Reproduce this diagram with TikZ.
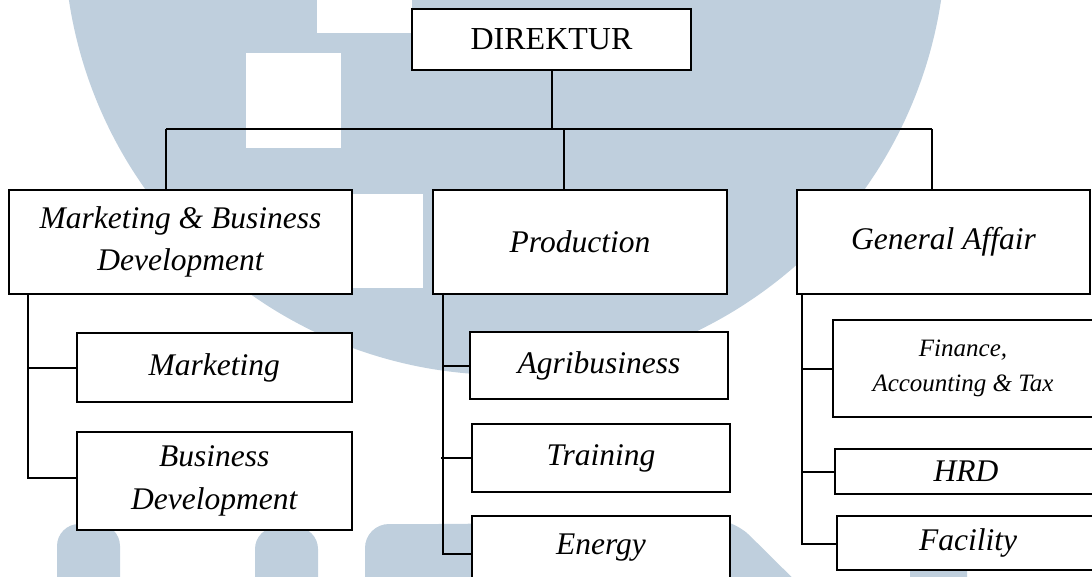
\documentclass[tikz,border=0pt]{standalone}
\usepackage{fontspec}
\setmainfont{Liberation Serif}
\definecolor{wm}{RGB}{191,207,221}
\tikzset{
  box/.style={draw, line width=2pt, fill=white, inner sep=0pt, align=center},
  itl/.style={font=\fontsize{31.5}{42}\selectfont\itshape},
  itm/.style={font=\fontsize{25}{35}\selectfont\itshape},
  conn/.style={line width=2pt},
  wmark/.style={fill=wm}
}
\begin{document}
\begin{tikzpicture}[x=1pt,y=-1pt]
\useasboundingbox (0,0) rectangle (1092,577);
\clip (0,0) rectangle (1092,577);
% watermark
\fill[wmark] (505,-66) circle[radius=441pt];
\fill[white] (317,-5) rectangle (412,33);
\fill[white] (246,53) rectangle (341,148);
\fill[white] (352,194) rectangle (423,288);
\fill[wmark, rounded corners=22pt] (57,620) -- (57,524) -- (120,524) -- (120,620) -- cycle;
\fill[wmark, rounded corners=22pt] (255,620) -- (255,527) -- (318,527) -- (318,620) -- cycle;
\fill[wmark, rounded corners=24pt] (365,620) -- (365,524) -- (460,524) -- (732,518) -- (835,620) -- cycle;
\fill[wmark, rounded corners=20pt] (910,620) -- (910,530) -- (967,530) -- (967,620) -- cycle;
% boxes
\node[box, minimum width=279pt, minimum height=61pt, font=\fontsize{32}{38}\selectfont] (dir) at (551.5,39.5) {DIREKTUR};
\node[box, itl, minimum width=343pt, minimum height=104pt] (mbd) at (180.5,242) {Marketing \& Business\\Development};
\node[box, itl, minimum width=294pt, minimum height=104pt] (prod) at (580,242) {Production};
\node[box, itl, minimum width=293pt, minimum height=104pt] (ga) at (943.5,242) {General Affair};
\node[box, itl, minimum width=275.4pt, minimum height=69pt] (mkt) at (214.3,367.5) {Marketing};
\node[box, itl, minimum width=275.4pt, minimum height=98pt, font=\fontsize{31.5}{43}\selectfont\itshape] (bd) at (214.3,481) {Business\\Development};
\node[box, itl, minimum width=258pt, minimum height=67pt] (agri) at (599,365.5) {Agribusiness};
\node[box, itl, minimum width=258pt, minimum height=68pt] (train) at (601,458) {Training};
\node[box, itl, minimum width=258pt, minimum height=64pt] (energy) at (601,548) {Energy};
\node[box, itm, minimum width=260pt, minimum height=97pt] (fin) at (963,368.5) {Finance,\\Accounting \& Tax};
\node[box, itl, minimum width=262pt, minimum height=45pt] (hrd) at (966,471.5) {HRD};
\node[box, itl, minimum width=262pt, minimum height=54pt] (fac) at (968,543) {Facility};
% top connectors
\coordinate (busL) at (166,129);
\coordinate (busR) at (932,129);
\draw[conn] (dir.south) -- (dir.south |- busL);
\draw[conn] (busL) -- (busR);
\draw[conn] (busL) -- (busL |- mbd.north);
\draw[conn] (prod.north -| 564,0) coordinate (pt) -- (pt |- busL);
\draw[conn, line width=1.5pt] (busR) -- (busR |- ga.north);
% left branch
\coordinate (lb) at (28,294);
\coordinate (lbe) at (28,478);
\draw[conn] (lb) -- (lbe) -- (lbe -| bd.west);
\draw[conn] (lb |- mkt.west) -- (mkt.west);
% production branch
\coordinate (pb) at (443,293);
\coordinate (pbe) at (443,554);
\draw[conn] (pb) -- (pbe) -- (pbe -| energy.west);
\draw[conn] (pb |- agri.west) -- (agri.west);
\draw[conn] (441,458) coordinate (ts) -- (ts -| train.west);
% general affair branch
\coordinate (gb) at (802,294);
\coordinate (gbe) at (802,544);
\draw[conn] (gb) -- (gbe) -- (gbe -| fac.west);
\draw[conn] (gb |- fin.west) -- (fin.west);
\draw[conn] (gb |- hrd.west) -- (hrd.west);
\end{tikzpicture}
\end{document}
